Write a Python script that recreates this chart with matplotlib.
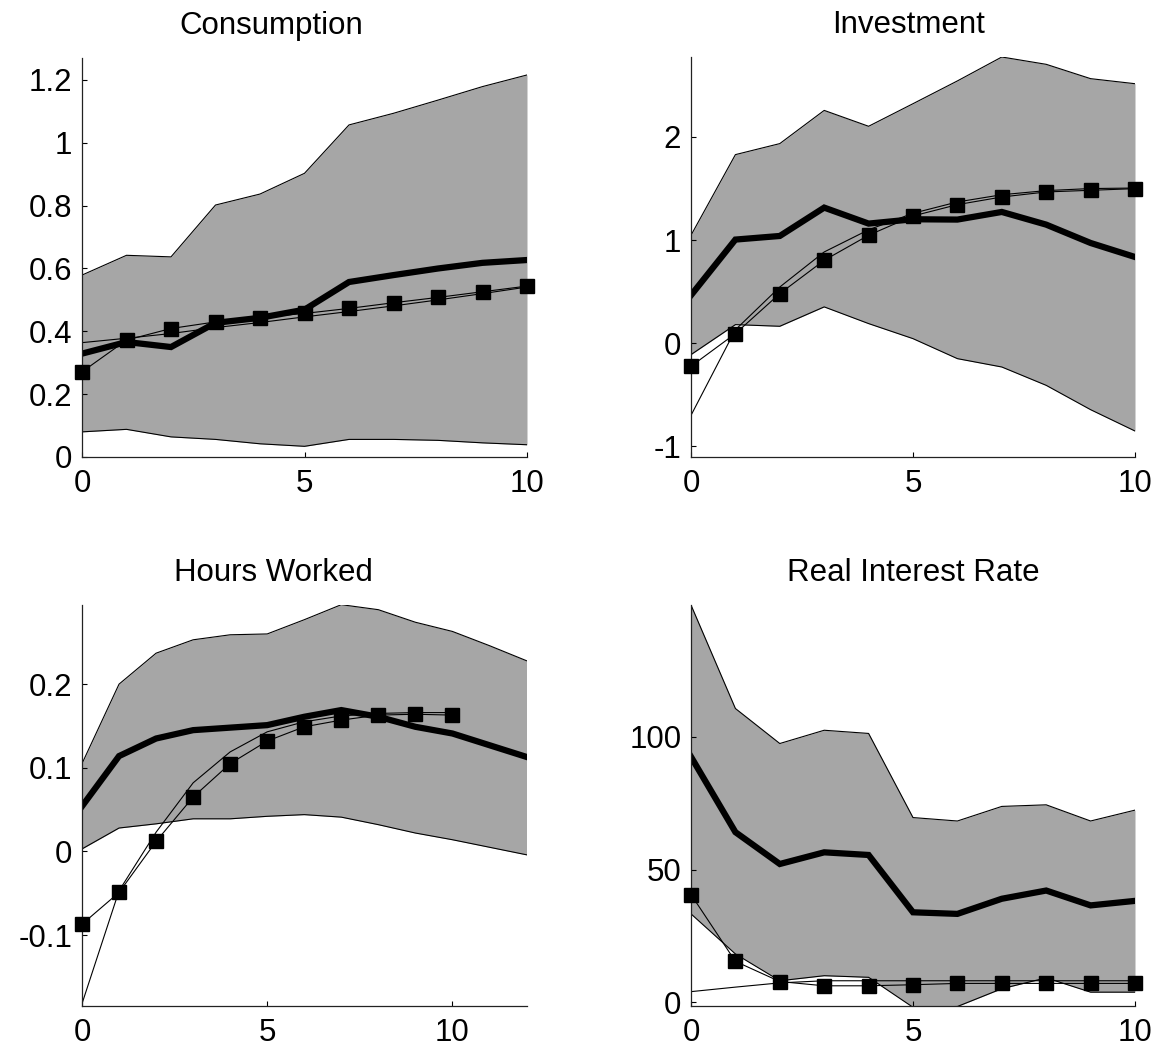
import matplotlib
matplotlib.use('Agg')
import matplotlib.pyplot as plt

plt.rcParams['font.family'] = ['Liberation Sans', 'DejaVu Sans']
plt.rcParams['axes.unicode_minus'] = False

# impulse responses, horizon 0..10 (hours worked runs to 12)
h10 = list(range(11))
h12 = list(range(13))

# Consumption
cons_hi = [0.579, 0.642, 0.637, 0.802, 0.837, 0.903, 1.057, 1.094, 1.136, 1.179, 1.216]
cons_lo = [0.080, 0.088, 0.064, 0.056, 0.042, 0.034, 0.056, 0.056, 0.053, 0.045, 0.039]
cons_med = [0.329, 0.366, 0.350, 0.427, 0.443, 0.469, 0.557, 0.579, 0.600, 0.618, 0.627]
cons_mod = [0.271, 0.372, 0.409, 0.430, 0.444, 0.457, 0.473, 0.491, 0.508, 0.526, 0.544]
cons_alt = [0.364, 0.378, 0.393, 0.412, 0.428, 0.446, 0.463, 0.481, 0.500, 0.520, 0.541]

# Investment
inv_hi = [1.047, 1.829, 1.936, 2.258, 2.104, 2.323, 2.544, 2.776, 2.705, 2.566, 2.517]
inv_lo = [-0.111, 0.180, 0.164, 0.352, 0.190, 0.044, -0.150, -0.231, -0.409, -0.645, -0.852]
inv_med = [0.465, 1.005, 1.040, 1.315, 1.160, 1.202, 1.199, 1.273, 1.150, 0.972, 0.836]
inv_mod = [-0.224, 0.093, 0.481, 0.804, 1.047, 1.234, 1.344, 1.418, 1.467, 1.483, 1.499]
inv_alt = [-0.70, 0.13, 0.545, 0.885, 1.10, 1.26, 1.37, 1.44, 1.48, 1.50, 1.505]

# Hours worked
hrs_hi = [0.105, 0.200, 0.237, 0.253, 0.259, 0.260, 0.277, 0.295, 0.289, 0.274, 0.263, 0.246, 0.228]
hrs_lo = [0.003, 0.028, 0.033, 0.039, 0.039, 0.042, 0.044, 0.041, 0.032, 0.022, 0.014, 0.005, -0.004]
hrs_med = [0.054, 0.114, 0.135, 0.145, 0.148, 0.151, 0.161, 0.169, 0.161, 0.149, 0.141, 0.127, 0.113]
hrs_mod = [-0.087, -0.049, 0.012, 0.065, 0.105, 0.132, 0.149, 0.157, 0.163, 0.164, 0.163]
hrs_alt = [-0.182, -0.047, 0.023, 0.082, 0.119, 0.143, 0.155, 0.162, 0.165, 0.166, 0.166]

# Real interest rate
rir_hi = [149.7, 110.7, 97.5, 102.5, 101.3, 69.6, 68.3, 73.8, 74.4, 68.3, 72.4]
rir_lo = [33.3, 18.2, 8.1, 10.0, 9.4, -1.9, -1.6, 5.1, 9.2, 3.8, 3.8]
rir_med = [92.5, 64.1, 52.1, 56.5, 55.5, 33.9, 33.3, 39.0, 42.1, 36.5, 38.2]
rir_mod = [40.6, 15.4, 7.8, 6.2, 6.2, 6.6, 7.1, 7.1, 7.1, 7.1, 7.1]
rir_alt = [4.0, 5.7, 7.3, 8.1, 8.1, 8.1, 8.1, 8.1, 8.1, 8.1, 8.1]

W, H = 1165, 1051
fig = plt.figure(figsize=(W / 100, H / 100), dpi=100)


def panel(rect, title, xh, hi, lo, med, mod, alt, xlim, ylim, yt, ytl, tx):
    l, t, r, b = rect
    ax = fig.add_axes([l / W, 1 - b / H, (r - l) / W, (b - t) / H])
    ax.fill_between(xh, lo, hi, color='#a6a6a6', lw=0)
    ax.plot(xh, hi, color='k', lw=0.8)
    ax.plot(xh, lo, color='k', lw=0.8)
    ax.plot(xh, med, color='k', lw=4.5, solid_joinstyle='miter')
    ax.plot(list(range(len(alt))), alt, color='k', lw=0.8)
    ax.plot(list(range(len(mod))), mod, color='k', lw=0.8, marker='s', ms=10.5,
            clip_on=False, zorder=5)
    ax.set_xlim(*xlim)
    ax.set_ylim(*ylim)
    ax.set_xticks([0, 5, 10])
    ax.set_xticklabels(['0', '5', '10'])
    ax.set_yticks(yt)
    ax.set_yticklabels(ytl)
    for s in ['top', 'right']:
        ax.spines[s].set_visible(False)
    for s in ['left', 'bottom']:
        ax.spines[s].set_linewidth(0.9)
        ax.spines[s].set_color('#222222')
    ax.tick_params(direction='in', length=3.5, width=0.8, labelsize=22.5, colors='k')
    ax.tick_params(axis='y', pad=7)
    ax.tick_params(axis='x', pad=9)
    ax.set_title(title, fontsize=22.5, pad=17, x=tx)
    return ax


panel((82, 58, 527, 457), 'Consumption', h10, cons_hi, cons_lo, cons_med, cons_mod, cons_alt,
      (0, 10), (0, 1.27), [0, 0.2, 0.4, 0.6, 0.8, 1.0, 1.2],
      ['0', '0.2', '0.4', '0.6', '0.8', '1', '1.2'], 0.425)
panel((691, 57, 1135, 457), 'Investment', h10, inv_hi, inv_lo, inv_med, inv_mod, inv_alt,
      (0, 10), (-1.104, 2.776), [-1, 0, 1, 2], ['-1', '0', '1', '2'], 0.49)
panel((82, 605, 526.5, 1005.7), 'Hours Worked', h12, hrs_hi, hrs_lo, hrs_med, hrs_mod, hrs_alt,
      (0, 12), (-0.1844, 0.2946), [-0.1, 0, 0.1, 0.2], ['-0.1', '0', '0.1', '0.2'], 0.43)
panel((691, 605, 1135, 1005.7), 'Real Interest Rate', h10, rir_hi, rir_lo, rir_med, rir_mod, rir_alt,
      (0, 10), (-1.3, 149.7), [0, 50, 100], ['0', '50', '100'], 0.50)

fig.savefig('out.png', dpi=100)
